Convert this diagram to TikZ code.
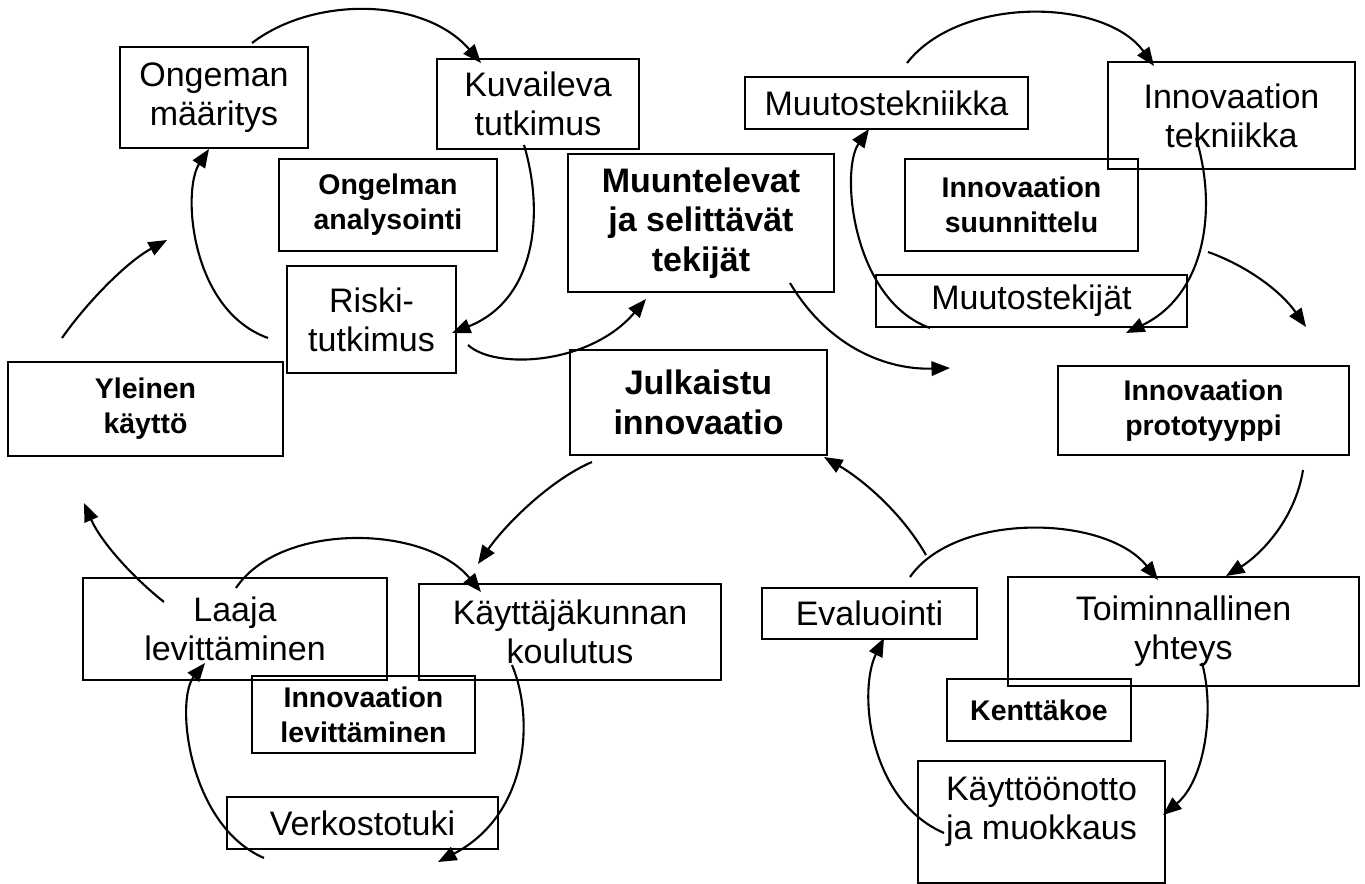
\documentclass[tikz,border=0pt]{standalone}
\usepackage{fontspec}
\setmainfont{Liberation Sans}
\usetikzlibrary{arrows.meta}

\begin{document}
\begin{tikzpicture}[x=0.02cm, y=-0.02cm,
    box/.style={draw=black, line width=1pt, align=center, inner sep=0pt,
        font=\fontsize{19.35}{22.2}\selectfont},
    bbox/.style={box, font=\bfseries\fontsize{16.2}{19.9}\selectfont},
    bigbox/.style={box, font=\bfseries\fontsize{19.35}{22.6}\selectfont},
    kaari/.style={line width=1.2pt, -{Triangle[length=0.37cm, width=0.29cm]}}]

            \useasboundingbox (0,0) rectangle (1365,884);

            % ongelman analysointi
            \node[box, minimum width=3.76cm, minimum height=2.02cm] (ongeman) at (214,97.5) {Ongeman\\määritys};
            \node[box, minimum width=4.04cm, minimum height=1.80cm] (kuvaileva) at (538,104) {Kuvaileva\\tutkimus};
            \node[bbox, minimum width=4.36cm, minimum height=1.84cm] (analysointi) at (388,205) {Ongelman\\analysointi};
            \node[box, minimum width=3.38cm, minimum height=2.14cm] (riski) at (371.5,319.5) {Riski-\\tutkimus};
            \node[bbox, minimum width=5.50cm, minimum height=1.88cm] (yleinen) at (145.5,409) {Yleinen\\käyttö};

            % keskellä
            \node[bigbox, minimum width=5.32cm, minimum height=2.76cm] (muuntelevat) at (701,223) {Muuntelevat\\ja selittävät\\tekijät};
            \node[bigbox, minimum width=5.14cm, minimum height=2.10cm] (julkaistu) at (698.5,402.5) {Julkaistu\\innovaatio};

            % innovaation suunnittelu
            \node[box, minimum width=5.66cm, minimum height=1.04cm] (muutostekniikka) at (886.5,103) {Muutostekniikka};
            \node[box, minimum width=4.94cm, minimum height=2.14cm] (tekniikka) at (1231.5,115.5) {Innovaation\\tekniikka};
            \node[bbox, minimum width=4.66cm, minimum height=1.84cm] (suunnittelu) at (1021.5,205) {Innovaation\\suunnittelu};
            \node[box, minimum width=6.22cm, minimum height=1.04cm] (muutostekijat) at (1031.5,301) {Muutostekijät};
            \node[bbox, minimum width=5.82cm, minimum height=1.78cm] (prototyyppi) at (1203.5,410.5) {Innovaation\\prototyyppi};

            % innovaation levittäminen
            \node[box, minimum width=6.08cm, minimum height=2.04cm] (laaja) at (235,629) {Laaja\\levittäminen};
            \node[box, minimum width=6.04cm, minimum height=1.92cm] (koulutus) at (570,632) {Käyttäjäkunnan\\koulutus};
            \node[bbox, minimum width=4.46cm, minimum height=1.54cm] (levittaminen) at (363.5,714.5) {Innovaation\\levittäminen};
            \node[box, minimum width=5.42cm, minimum height=1.04cm] (verkosto) at (362.5,823) {Verkostotuki};

            % kenttäkoe
            \node[box, minimum width=4.30cm, minimum height=1.02cm] (evaluointi) at (869.5,613.5) {Evaluointi};
            \node[box, minimum width=7.02cm, minimum height=2.18cm] (toiminnallinen) at (1183.5,631.5) {Toiminnallinen\\yhteys};
            \node[bbox, minimum width=3.68cm, minimum height=1.24cm] (kenttakoe) at (1039,710) {Kenttäkoe};
            \node[box, minimum width=4.94cm, minimum height=2.44cm, text depth=0.55cm] (kayttoonotto) at (1041.5,822) {Käyttöönotto\\ja muokkaus};

            \coordinate (A1) at (252,43);
            \coordinate (A2) at (481,63);
            \coordinate (A3) at (524,145);
            \coordinate (A4) at (452,333);
            \coordinate (A5) at (268,338);
            \coordinate (A6) at (209,149);
            \coordinate (A7) at (62,338);
            \coordinate (A8) at (167,240);
            \coordinate (A9) at (468,345);
            \coordinate (A10) at (646,299);

            \coordinate (B1) at (907,63);
            \coordinate (B2) at (1154,66);
            \coordinate (B3) at (1196,138);
            \coordinate (B4) at (1126,333);
            \coordinate (B5) at (930,328);
            \coordinate (B6) at (869,129);
            \coordinate (B7) at (790,283);
            \coordinate (B8) at (950,368);
            \coordinate (B9) at (1208,252);
            \coordinate (B10) at (1306,327);

            \coordinate (C1) at (910,577);
            \coordinate (C2) at (1158,580);
            \coordinate (C3) at (1202,663);
            \coordinate (C4) at (1163,815);
            \coordinate (C5) at (944,833);
            \coordinate (C6) at (884,638);
            \coordinate (C7) at (926,555);
            \coordinate (C8) at (824,457);
            \coordinate (C9) at (1303,470);
            \coordinate (C10) at (1226,576);

            \coordinate (D1) at (236,588);
            \coordinate (D2) at (481,592);
            \coordinate (D3) at (512,665);
            \coordinate (D4) at (438,862);
            \coordinate (D5) at (264,858);
            \coordinate (D6) at (205,663);
            \coordinate (D7) at (592,462);
            \coordinate (D8) at (478,564);
            \coordinate (D9) at (164,602);
            \coordinate (D10) at (84,503);

            \draw[kaari] (A1) .. controls (315,-5) and (425,-2) .. (A2);
            \draw[kaari] (A3) .. controls (545,215) and (535,300) .. (A4);
            \draw[kaari] (A5) .. controls (190,310) and (182,190) .. (A6);
            \draw[kaari] (A7) .. controls (85,305) and (125,263) .. (A8);
            \draw[kaari] (A9) .. controls (495,370) and (590,365) .. (A10);

            \draw[kaari] (B1) .. controls (960,-5) and (1105,-2) .. (B2);
            \draw[kaari] (B3) .. controls (1218,210) and (1205,295) .. (B4);
            \draw[kaari] (B5) .. controls (852,300) and (840,170) .. (B6);
            \draw[kaari] (B7) .. controls (830,350) and (890,370) .. (B8);
            \draw[kaari] (B9) .. controls (1245,265) and (1280,290) .. (B10);

            \draw[kaari] (C1) .. controls (955,512) and (1105,514) .. (C2);
            \draw[kaari] (C3) .. controls (1215,710) and (1205,780) .. (C4);
            \draw[kaari] (C5) .. controls (868,800) and (858,690) .. (C6);
            \draw[kaari] (C7) .. controls (900,510) and (860,478) .. (C8);
            \draw[kaari] (C9) .. controls (1295,520) and (1260,555) .. (C10);

            \draw[kaari] (D1) .. controls (280,522) and (425,524) .. (D2);
            \draw[kaari] (D3) .. controls (535,720) and (528,815) .. (D4);
            \draw[kaari] (D5) .. controls (188,825) and (175,700) .. (D6);
            \draw[kaari] (D7) .. controls (550,480) and (505,525) .. (D8);
            \draw[kaari] (D9) .. controls (130,575) and (100,540) .. (D10);
\end{tikzpicture}
\end{document}
